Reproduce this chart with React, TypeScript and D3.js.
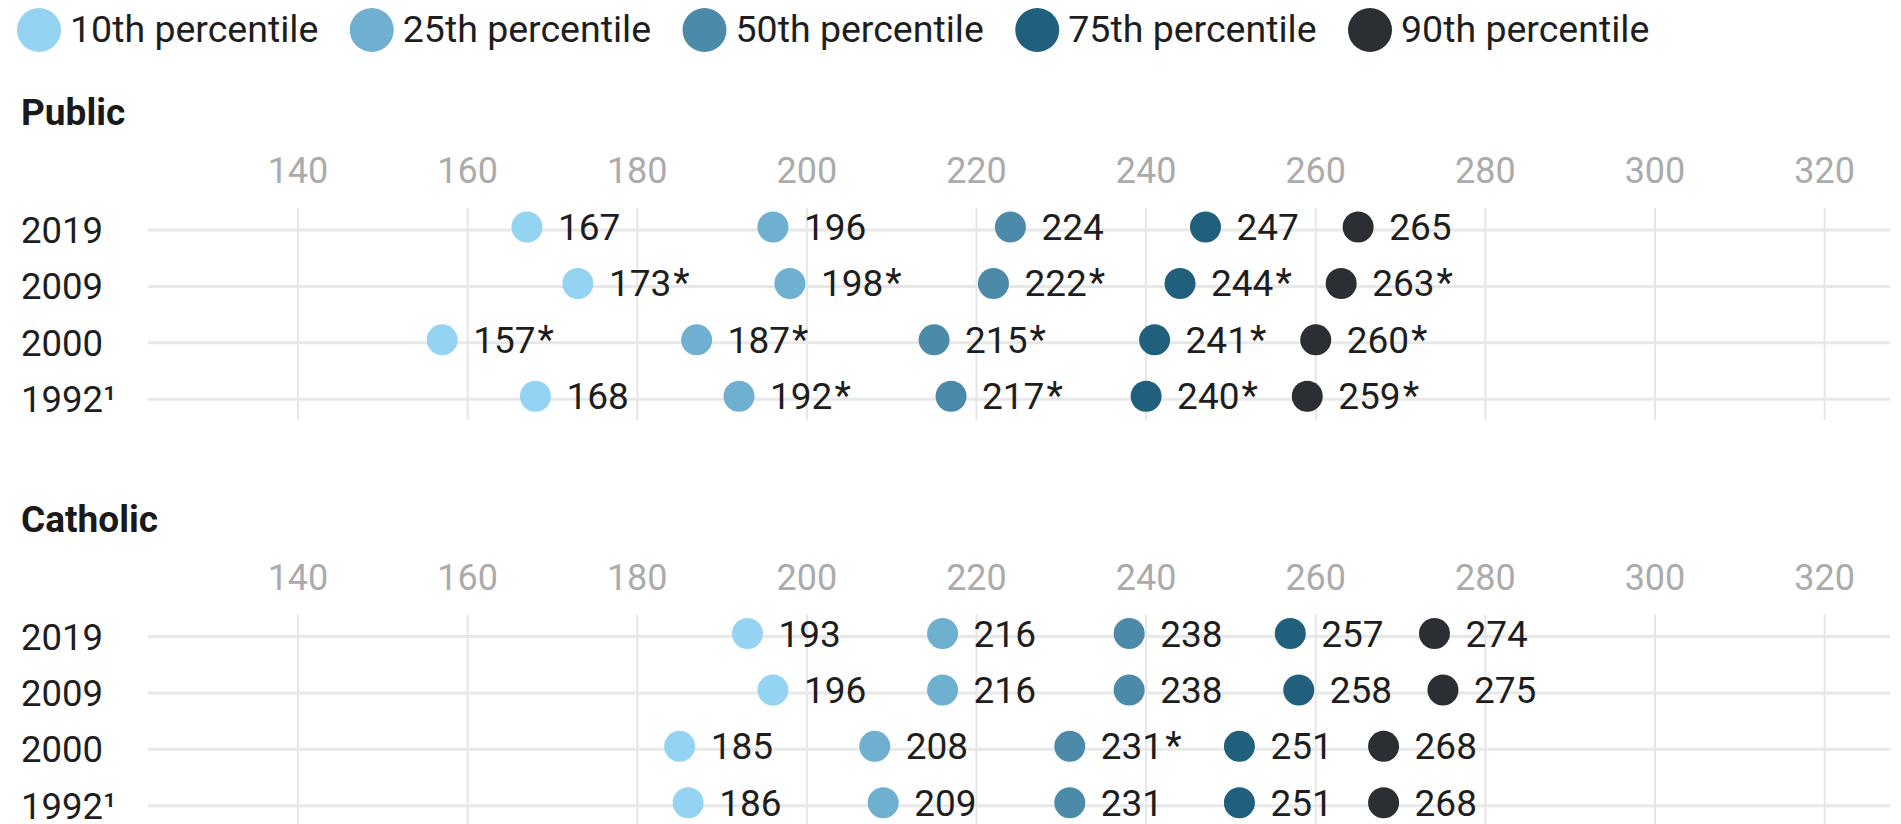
import React from "react";
import * as d3 from "d3";

const PERCENTILES = ["10th percentile", "25th percentile", "50th percentile", "75th percentile", "90th percentile"];
const COLORS = ["#94d4f2", "#6fafcf", "#4b8aa8", "#21607c", "#2b2e33"];
const YEARS = ["2019", "2009", "2000", "1992¹"];
const TICKS = [140, 160, 180, 200, 220, 240, 260, 280, 300, 320];

// values per year (rows) for each percentile
const PUBLIC_VALUES = [
  [167, 196, 224, 247, 265],
  [173, 198, 222, 244, 263],
  [157, 187, 215, 241, 260],
  [168, 192, 217, 240, 259],
];
const PUBLIC_SIG = [
  [false, false, false, false, false],
  [true, true, true, true, true],
  [true, true, true, true, true],
  [false, true, true, true, true],
];
const CATHOLIC_VALUES = [
  [193, 216, 238, 257, 274],
  [196, 216, 238, 258, 275],
  [185, 208, 231, 251, 268],
  [186, 209, 231, 251, 268],
];
const CATHOLIC_SIG = [
  [false, false, false, false, false],
  [false, false, false, false, false],
  [false, false, true, false, false],
  [false, false, false, false, false],
];

const PANELS = [
  { title: "Public", values: PUBLIC_VALUES, sig: PUBLIC_SIG, top: 0 },
  { title: "Catholic", values: CATHOLIC_VALUES, sig: CATHOLIC_SIG, top: 406.5 },
];

const FONT = "Roboto, 'Noto Sans', sans-serif";
const W = 1901;
const H = 824;
const LINE_LEFT = 148;
const LINE_RIGHT = 1890;

export default function App() {
  const x = d3.scaleLinear().domain([140, 320]).range([298, 1824.6]);

  return (
    <div style={{ position: "absolute", left: 0, top: 0, width: W, height: H, overflow: "hidden", background: "#fff" }}>
      <svg width={W} height={H} style={{ display: "block" }} fontFamily={FONT}>
        {/* legend */}
        {PERCENTILES.map((p, i) => {
          const cx = 39 + i * 332.75;
          return (
            <g key={p}>
              <circle cx={cx} cy={30} r={22} fill={COLORS[i]} />
              <text x={cx + 31} y={42} fontSize={37.5} fill="#1e1e1e">{p}</text>
            </g>
          );
        })}
        {PANELS.map((panel) => {
          const y = d3.scalePoint<string>().domain(YEARS).range([230 + panel.top, 399.3 + panel.top]);
          const gridTop = 208 + panel.top;
          const gridBottom = 420 + panel.top;
          return (
            <g key={panel.title}>
              <text x={21} y={125 + panel.top} fontSize={37} fontWeight="bold" fill="#1a1a1a">{panel.title}</text>
              {TICKS.map((t) => (
                <g key={t}>
                  <text x={x(t)} y={183 + panel.top} fontSize={36} fill="#ababab" textAnchor="middle">{t}</text>
                  <line x1={x(t)} x2={x(t)} y1={gridTop} y2={gridBottom} stroke="#e6e6e6" strokeWidth={2} />
                </g>
              ))}
              {YEARS.map((yr) => (
                <line key={yr} x1={LINE_LEFT} x2={LINE_RIGHT} y1={y(yr)} y2={y(yr)} stroke="#e8e8e8" strokeWidth={3} />
              ))}
              {YEARS.map((yr, ri) => (
                <g key={yr}>
                  <text x={21} y={(y(yr) as number) + 13} fontSize={36.5} fill="#1e1e1e">{yr}</text>
                  {panel.values[ri].map((v, pi) => {
                    const cy = (y(yr) as number) - 3;
                    return (
                      <g key={pi}>
                        <circle cx={x(v)} cy={cy} r={15.5} fill={COLORS[pi]} />
                        <text x={x(v) + 31} y={cy + 13} fontSize={37} fill="#1e1e1e">
                          {String(v)}
                          {panel.sig[ri][pi] ? <tspan dx={2} fontSize={38}>*</tspan> : null}
                        </text>
                      </g>
                    );
                  })}
                </g>
              ))}
            </g>
          );
        })}
      </svg>
    </div>
  );
}
